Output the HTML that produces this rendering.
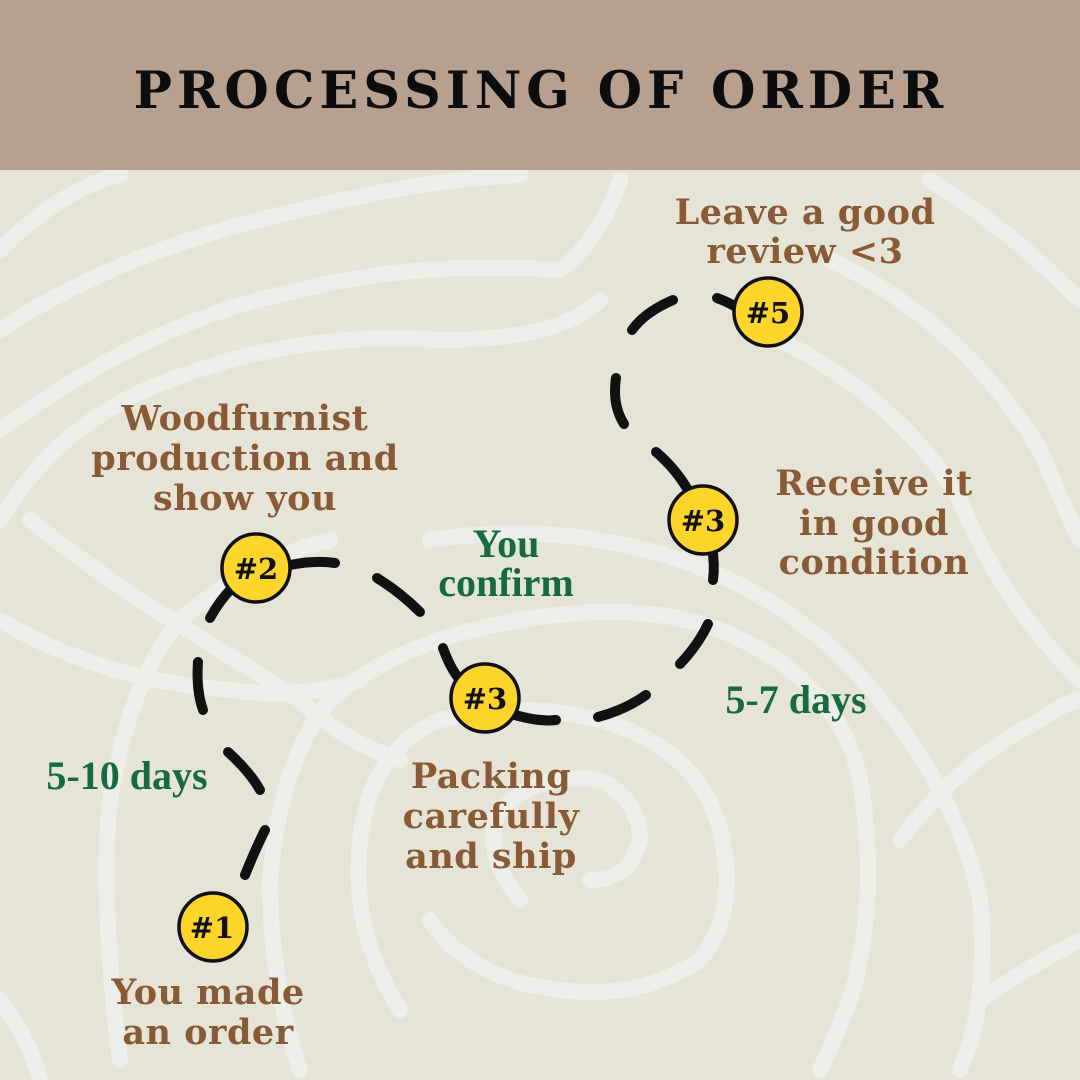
<!DOCTYPE html>
<html><head><meta charset="utf-8"><style>
html,body{margin:0;padding:0}
body{width:1080px;height:1080px;position:relative;overflow:hidden;background:#e5e4d7}
</style></head><body>
<svg width="1080" height="1080" viewBox="0 0 1080 1080" style="position:absolute;left:0;top:0">
<rect x="0" y="0" width="1080" height="1080" fill="#e5e4d7"/>
<g fill="none" stroke="#eeeee8" stroke-width="16" stroke-linecap="round">
<path d="M0 250 Q60 190 120 175"/>
<path d="M0 330 Q120 250 300 210 Q420 180 520 175"/>
<path d="M0 430 Q150 320 300 290 Q420 260 560 270 Q600 240 620 180"/>
<path d="M0 520 Q60 420 170 380 Q300 330 440 340 Q560 340 600 300"/>
<path d="M930 180 Q1010 230 1080 300"/>
<path d="M830 260 Q960 320 1040 450 Q1070 520 1080 540"/>
<path d="M780 340 Q900 400 960 500 Q1000 600 1080 680"/>
<path d="M0 620 Q100 680 230 690 Q300 700 360 680"/>
<path d="M30 520 Q80 560 140 600 Q220 650 300 700 Q340 740 400 760"/>
<path d="M120 1060 Q100 900 110 800 Q130 680 180 620 Q250 560 330 540"/>
<path d="M300 1070 Q270 980 270 880 Q280 760 330 700 Q400 640 520 620 Q640 600 720 630 Q840 680 860 780 Q880 900 850 1000 Q830 1050 820 1070"/>
<path d="M400 1010 Q350 930 360 840 Q370 750 440 720 Q520 700 600 720 Q700 750 720 830 Q740 910 700 960 Q640 1000 560 990 Q470 980 430 920"/>
<path d="M520 900 Q480 850 500 810 Q540 770 600 780 Q640 800 640 840 Q630 880 590 880"/>
<path d="M430 540 Q560 520 680 560 Q800 600 880 700 Q960 800 980 900 Q990 1000 960 1070"/>
<path d="M900 840 Q960 760 1040 720 Q1070 700 1080 700"/>
<path d="M0 1000 Q30 1040 40 1080"/>
<path d="M980 1000 Q1040 960 1080 940"/>
</g>
<rect x="0" y="0" width="1080" height="170" fill="#b8a08f"/>
<text x="541" y="108" text-anchor="middle" font-family="DejaVu Serif, serif" font-weight="bold" font-size="51" letter-spacing="5" fill="#0d0d0d">PROCESSING OF ORDER</text>
<g fill="none" stroke="#111" stroke-width="10" stroke-linecap="round">
<path d="M245 875 Q255 850 265 830"/>
<path d="M228 752 Q250 772 260 790"/>
<path d="M198 662 Q196 690 203 710"/>
<path d="M210 618 Q220 600 232 588"/>
<path d="M290 565 Q315 560 335 563"/>
<path d="M377 578 Q400 592 420 612"/>
<path d="M443 648 Q450 668 460 680"/>
<path d="M515 715 Q540 722 556 720"/>
<path d="M598 717 Q625 710 646 695"/>
<path d="M680 664 Q698 645 708 624"/>
<path d="M713 580 Q715 565 712 547"/>
<path d="M656 452 Q675 468 688 490"/>
<path d="M616 378 Q612 405 624 424"/>
<path d="M632 330 Q645 312 673 300"/>
<path d="M717 298 Q728 302 738 308"/>
</g>
<g stroke="#111" stroke-width="3.5" fill="#fdd42a">
<circle cx="213" cy="927" r="34"/><circle cx="256" cy="568" r="34"/><circle cx="485" cy="698" r="34"/><circle cx="703" cy="520" r="34"/><circle cx="768" cy="312" r="34"/>
</g>
<g font-family="DejaVu Serif, serif" font-weight="bold" font-size="29" fill="#111" text-anchor="middle">
<text x="212" y="938">#1</text><text x="256" y="579">#2</text><text x="485" y="709">#3</text><text x="703" y="531">#3</text><text x="768" y="323">#5</text>
</g>
<g font-family="DejaVu Serif, serif" font-weight="bold" font-size="35" fill="#8a5a36" text-anchor="middle" letter-spacing="0.5">
<text x="805" y="224">Leave a good</text><text x="805" y="263">review &lt;3</text>
<text x="245" y="430">Woodfurnist</text><text x="245" y="470">production and</text><text x="245" y="510">show you</text>
<text x="874" y="495">Receive it</text><text x="874" y="535">in good</text><text x="874" y="574">condition</text>
<text x="491" y="788">Packing</text><text x="491" y="828">carefully</text><text x="491" y="868">and ship</text>
<text x="208" y="1004">You made</text><text x="208" y="1044">an order</text>
</g>
<g font-family="Liberation Serif, serif" font-weight="bold" font-size="40" fill="#156b3b" text-anchor="middle">
<text x="506" y="557">You</text><text x="506" y="596">confirm</text>
<text x="796" y="713">5-7 days</text>
<text x="127" y="789">5-10 days</text>
</g>
</svg>
</body></html>
